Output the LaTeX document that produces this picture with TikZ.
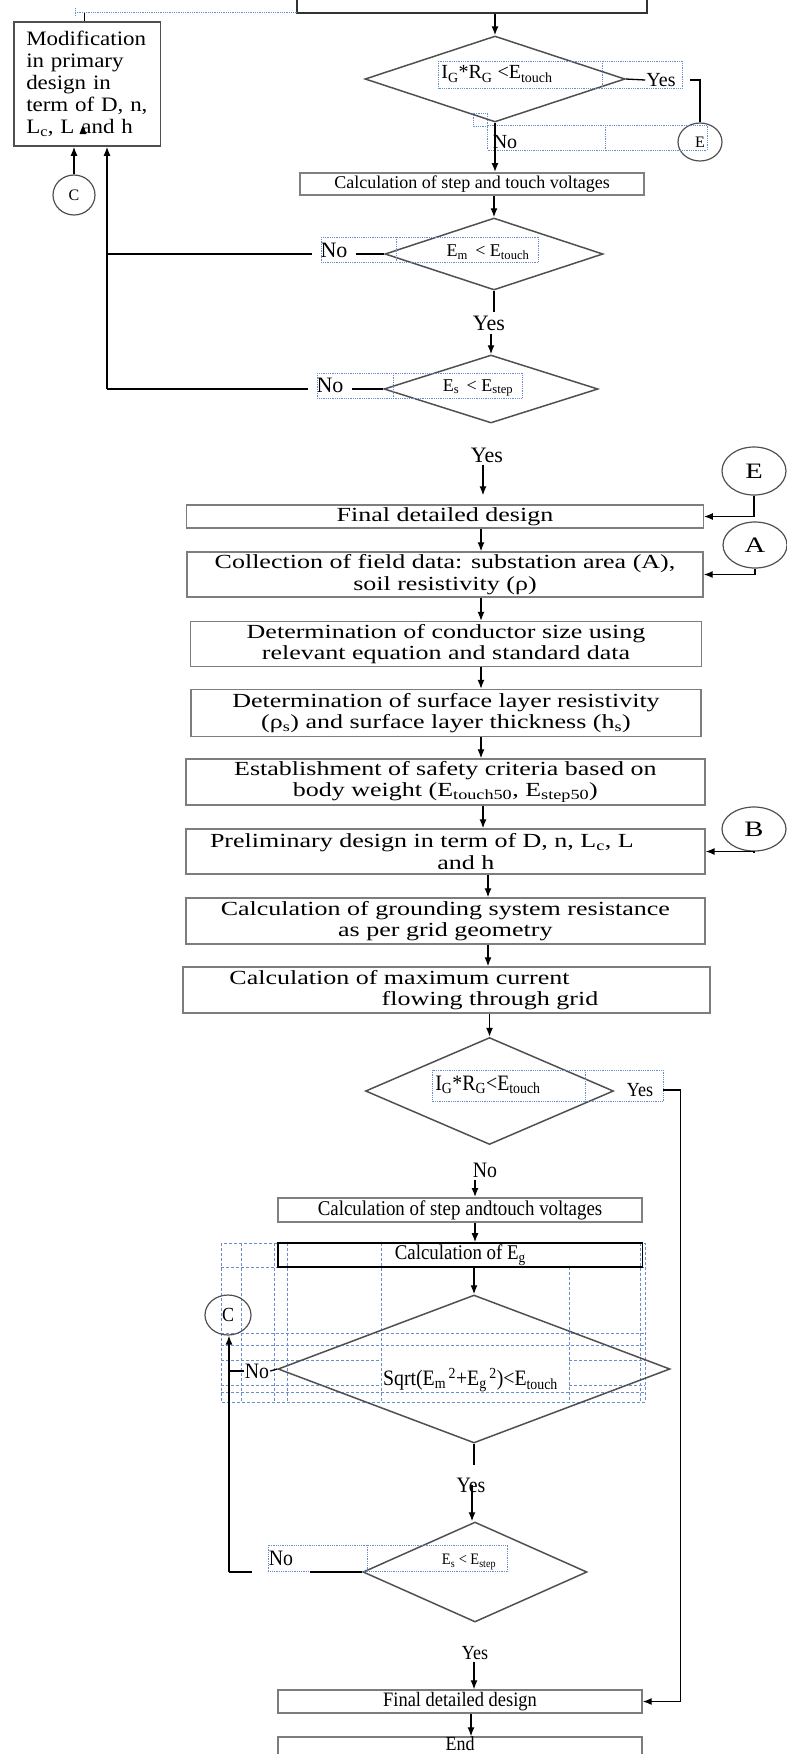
\documentclass[tikz,border=0pt]{standalone}
\usepackage{fontspec}
\setmainfont{Liberation Serif}
\newfontfamily\widerm[FakeStretch=1.3]{Liberation Serif}
\newfontfamily\modrm[FakeStretch=1.12]{Liberation Serif}
\newfontfamily\narrowrm[FakeStretch=0.9]{Liberation Serif}
\usetikzlibrary{shapes.geometric,arrows.meta}

\definecolor{framegray}{RGB}{125,125,125}
\definecolor{edgegray}{RGB}{80,80,80}
\definecolor{boxblue}{RGB}{105,140,205}

\tikzset{
  procbox/.style={rectangle, draw=framegray, line width=1.4pt, inner sep=0pt, align=center,
    font=\widerm\fontsize{20}{21.5}\selectfont},
  lowbox/.style={rectangle, draw=framegray, line width=1.4pt, inner sep=0pt, align=center,
    font=\narrowrm\fontsize{21}{23}\selectfont},
  decision/.style={diamond, draw=edgegray, line width=1.5pt, inner sep=0pt},
  conn/.style={ellipse, draw=edgegray, line width=1.2pt, inner sep=0pt},
  lbl/.style={inner sep=2pt},
  wire/.style={line width=1.3pt},
  flow/.style={line width=1.3pt, -{Latex[length=9pt,width=7pt]}},
  tbox/.style={draw=boxblue, densely dotted, line width=0.8pt},
  cellgrid/.style={draw=boxblue, dash pattern=on 3pt off 2pt, line width=0.7pt},
}

\begin{document}
\begin{tikzpicture}[x=1pt, y=-1pt]
\useasboundingbox (0,0) rectangle (787,1754);
\clip (0,0) rectangle (787,1754);

% ---- upper part (cut off at the top)
\node[rectangle, draw=black!80, line width=1.4pt, minimum width=350pt, minimum height=50pt] (prev) at (472,-12) {};
\draw[tbox] (75,12.7) -- (297,12.7);
\draw[tbox] (75,8) -- (75,17);

\node[rectangle, draw=edgegray, line width=1.5pt, minimum width=146.5pt, minimum height=124pt, inner sep=0pt,
  text width=122pt, align=left, font=\modrm\fontsize{20.5}{22}\selectfont] (modif) at (87.25,84)
  {Modification\\in primary\\design in\\term of D, n,\\L\textsubscript{c}, L and h};
\coordinate (upx) at (84.5,13);
\draw[wire] (modif.north -| upx) -- (upx);
\fill (79.5,134) -- (86.5,134) -- (83,125) -- cycle;

\node[conn, minimum width=42pt, minimum height=40pt, font=\fontsize{16}{18}\selectfont] (c1) at (74,195) {C};
\draw[flow] (c1.north) -- (c1.north |- modif.south);

\node[decision, minimum width=260pt, minimum height=86pt] (d1) at (495,79) {};
\draw[flow] (d1.north |- prev.south) -- (d1.north);
\node[lbl, font=\fontsize{20}{22}\selectfont] (t1) at (497,74) {I\textsubscript{G}*R\textsubscript{G} <E\textsubscript{touch}};
\draw[tbox] (438.6,61) rectangle (682.5,88);
\draw[tbox] (602,61) -- (602,88);
\node[lbl, inner sep=1pt, font=\fontsize{20}{22}\selectfont] (yes1) at (661,80) {Yes};
\draw[wire] (d1.east) -- (yes1.west);
\node[conn, minimum width=44pt, minimum height=38pt, font=\fontsize{16}{18}\selectfont] (e1) at (700,142) {E};
\draw[wire] ([xshift=13pt]yes1.east) -| (e1.north);
\node[lbl, font=\fontsize{20}{22}\selectfont] (no1) at (505,142) {No};
\draw[tbox] (487.4,125) rectangle (707,150);
\draw[tbox] (605,125) -- (605,150);
\draw[tbox] (473,113) rectangle (487,126);

\node[rectangle, draw=gray, line width=2pt, minimum width=344pt, minimum height=22pt, inner sep=0pt,
  font=\fontsize{18}{20}\selectfont] (calc1) at (472,184) {Calculation of step and touch voltages};
\draw[flow] (d1.south) -- (d1.south |- calc1.north);

\node[decision, minimum width=218pt, minimum height=72pt] (d2) at (494,254) {};
\draw[flow] (d2.north |- calc1.south) -- (d2.north);
\node[lbl, font=\fontsize{18}{20}\selectfont] (t2) at (488,252) {E\textsubscript{m} \,< E\textsubscript{touch}};
\node[lbl, inner sep=8pt, font=\fontsize{22}{24}\selectfont] (no2) at (334,250) {No};
\draw[tbox] (321,237) rectangle (538.6,262);
\draw[tbox] (396,237) -- (396,262);

\node[lbl, inner sep=3pt, font=\fontsize{22}{24}\selectfont] (yes2) at (489,323) {Yes};
\draw[wire] (d2.south) -- (d2.south |- yes2.north);

\node[decision, minimum width=214pt, minimum height=68pt] (d3) at (491,389) {};
\draw[flow] (yes2.south -| d3.north) -- (d3.north);
\node[lbl, font=\fontsize{18}{20}\selectfont] (t3) at (478,388) {E\textsubscript{s} \,< E\textsubscript{step}};
\node[lbl, inner sep=8pt, font=\fontsize{22}{24}\selectfont] (no3) at (330,385) {No};
\draw[tbox] (317,373) rectangle (522,398);
\draw[tbox] (393.5,373) -- (393.5,398);

\draw[wire] (d2.west) -- (d2.west -| no2.east);
\draw[wire] (d3.west) -- (d3.west -| no3.east);
\coordinate (back) at (107,389);
\draw[wire] (d2.west -| no2.west) -- (d2.west -| back);
\draw[wire] (d3.west -| no3.west) -- (back);
\draw[flow] (back) -- (back |- modif.south);

% ---- main sequence
\node[lbl, font=\fontsize{22}{24}\selectfont] (yes3) at (487,455) {Yes};
\node[procbox, minimum width=516.5pt, minimum height=23pt] (final1) at (445,516.5) {Final detailed design};
\coordinate (sp1) at (483,0);
\draw[flow, shorten >=9pt] (sp1 |- yes3.south) -- (sp1 |- final1.north);
\node[conn, minimum width=64pt, minimum height=48pt, font=\widerm\fontsize{22}{24}\selectfont] (e2) at (754,471) {E};
\draw[flow] (e2.south) |- (final1.east);

\node[procbox, minimum width=516pt, minimum height=45pt] (collect) at (445,574.5)
  {Collection of field data: substation area (A),\\soil resistivity (ρ)};
\node[conn, minimum width=64pt, minimum height=46pt, font=\widerm\fontsize{22}{24}\selectfont] (a1) at (755,545) {A};
\draw[flow] (a1.south) |- (collect.east);
\coordinate (sp2) at (481,0);
\draw[flow] (sp2 |- final1.south) -- (sp2 |- collect.north);

\node[procbox, minimum width=511pt, minimum height=45pt] (conductor) at (446,644)
  {Determination of conductor size using\\relevant equation and standard data};
\draw[flow] (sp2 |- collect.south) -- (sp2 |- conductor.north);

\node[procbox, minimum width=510pt, minimum height=47pt] (surface) at (446,713)
  {Determination of surface layer resistivity\\(ρ\textsubscript{s}) and surface layer thickness (h\textsubscript{s})};
\draw[flow] (sp2 |- conductor.south) -- (sp2 |- surface.north);

\node[procbox, minimum width=519pt, minimum height=46pt] (establish) at (445.4,782)
  {Establishment of safety criteria based on\\body weight (E\textsubscript{touch50}, E\textsubscript{step50})};
\draw[flow] (sp2 |- surface.south) -- (sp2 |- establish.north);

\node[procbox, minimum width=519pt, minimum height=45pt] (prelim) at (445.4,851.5)
  {Preliminary design in term of D, n, L\textsubscript{c}, L\hspace*{47pt}\\\hspace*{41pt}and h};
\coordinate (sp3) at (483,0);
\draw[flow] (sp3 |- establish.south) -- (sp3 |- prelim.north);
\node[conn, minimum width=64pt, minimum height=44pt, font=\widerm\fontsize{22}{24}\selectfont] (b1) at (754,829) {B};
\draw[flow] (b1.south) |- (prelim.east);

\node[procbox, minimum width=519pt, minimum height=46pt] (ground) at (445.4,921)
  {Calculation of grounding system resistance\\as per grid geometry};
\coordinate (sp4) at (488,0);
\draw[flow] (sp4 |- prelim.south) -- (sp4 |- ground.north);

\node[procbox, minimum width=527pt, minimum height=46pt] (maxcur) at (446.5,990)
  {Calculation of maximum current\hspace*{94pt}\\\hspace*{87pt}flowing through grid};
\draw[flow] (sp4 |- ground.south) -- (sp4 |- maxcur.north);

% ---- lower check
\node[decision, minimum width=248pt, minimum height=107pt] (d4) at (489.5,1091) {};
\draw[flow] (d4.north |- maxcur.south) -- (d4.north);
\node[lbl, font=\narrowrm\fontsize{22}{24}\selectfont] (t4) at (488,1085) {I\textsubscript{G}*R\textsubscript{G}<E\textsubscript{touch}};
\node[lbl, inner sep=10pt, font=\narrowrm\fontsize{20}{22}\selectfont] (yes4) at (640,1090) {Yes};
\draw[tbox] (432.5,1070) rectangle (663,1101.7);
\draw[tbox] (585,1070) -- (585,1101.7);
\node[lbl, font=\narrowrm\fontsize{22}{24}\selectfont] (no4) at (485,1170) {No};

\node[lowbox, draw=gray, line width=2pt, minimum width=364pt, minimum height=24pt] (step2) at (460,1210) {Calculation of step andtouch voltages};
\coordinate (sp6) at (475,0);
\draw[flow] (sp6 |- no4.south) -- (sp6 |- step2.north);

% text box grid round the check
\draw[cellgrid] (221,1243) rectangle (645,1402);
\draw[cellgrid] (221,1267) -- (645,1267);
\draw[cellgrid] (221,1333) -- (645,1333);
\draw[cellgrid] (221,1345) -- (645,1345);
\draw[cellgrid] (221,1392) -- (645,1392);
\draw[cellgrid] (221,1360) -- (381,1360) (569,1360) -- (645,1360);
\draw[cellgrid] (221,1385) -- (381,1385) (569,1385) -- (645,1385);
\draw[cellgrid] (241.5,1243) -- (241.5,1402);
\draw[cellgrid] (274,1243) -- (274,1402);
\draw[cellgrid] (287,1243) -- (287,1402);
\draw[cellgrid] (381,1243) -- (381,1402);
\draw[cellgrid] (569,1267) -- (569,1402);
\draw[cellgrid] (640,1243) -- (640,1402);

\node[lowbox, draw=black, line width=1.6pt, minimum width=364.7pt, minimum height=24pt] (eg) at (460.3,1255) {Calculation of E\textsubscript{g}};
\draw[flow] (sp6 |- step2.south) -- (sp6 |- eg.north);

\node[decision, minimum width=392pt, minimum height=148pt] (d5) at (474,1369) {};
\draw[flow] (d5.north |- eg.south) -- (d5.north);
\node[lbl, font=\narrowrm\fontsize{22}{24}\selectfont] (t5) at (470.5,1380)
  {Sqrt(E\textsubscript{m}\textsuperscript{\,2}+E\textsubscript{g}\textsuperscript{\,2})<E\textsubscript{touch}};
\node[conn, minimum width=46pt, minimum height=40pt, font=\narrowrm\fontsize{20}{22}\selectfont] (c2) at (228,1315) {C};
\node[lbl, inner sep=1pt, font=\narrowrm\fontsize{22}{24}\selectfont] (no5) at (257,1371) {No};
\coordinate (loopb) at (229,1572);
\draw[wire] (d5.west) -- (no5.east);
\draw[wire] (no5.west) -- (no5.west -| loopb);
\draw[flow] (loopb) -- (loopb |- c2.south);

\node[lbl, font=\narrowrm\fontsize{22}{24}\selectfont] (yes5) at (471,1485) {Yes};
\draw[wire, shorten >=11pt] (d5.south) -- (d5.south |- yes5.north);

\node[decision, minimum width=224pt, minimum height=100pt] (d6) at (475,1572) {};
\coordinate (sp7) at (472,0);
\draw[flow] (sp7 |- yes5.center) -- (sp7 |- d6.north);
\node[lbl, font=\narrowrm\fontsize{16}{18}\selectfont] (t6) at (469,1562) {E\textsubscript{s} < E\textsubscript{step}};
\node[lbl, inner sep=17pt, font=\narrowrm\fontsize{22}{24}\selectfont] (no6) at (281,1558) {No};
\draw[tbox] (268,1545) rectangle (507.7,1571.7);
\draw[tbox] (367.5,1545) -- (367.5,1571.7);
\draw[wire] (d6.west) -- (d6.west -| no6.east);
\draw[wire] (d6.west -| no6.west) -- (loopb);

\node[lbl, font=\narrowrm\fontsize{20}{22}\selectfont] (yes6) at (475,1653) {Yes};
\node[lowbox, minimum width=364pt, minimum height=23pt, font=\narrowrm\fontsize{20.5}{22}\selectfont] (final2) at (460,1701.5) {Final detailed design};
\coordinate (sp8) at (474,0);
\draw[flow] (sp8 |- yes6.south) -- (sp8 |- final2.north);
\coordinate (rside) at (680.5,0);
\draw[flow] (yes4.east) -| (rside |- final2.east) -- (final2.east);

\node[lowbox, minimum width=364pt, minimum height=40pt, text depth=26pt, font=\narrowrm\fontsize{20}{22}\selectfont] (endbox) at (460,1757) {End};
\coordinate (sp9) at (471,0);
\draw[flow] (sp9 |- final2.south) -- (sp9 |- endbox.north);

\end{tikzpicture}
\end{document}
